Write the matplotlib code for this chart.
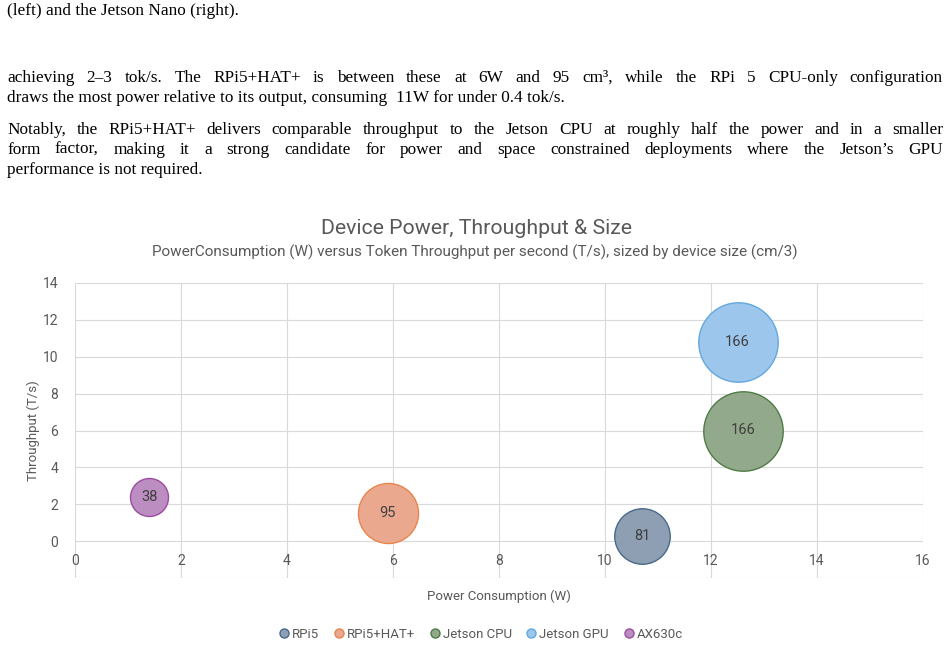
import matplotlib
matplotlib.use("Agg")
import matplotlib.pyplot as plt
from matplotlib.lines import Line2D

# chart data
devices = ["RPi5", "RPi5+HAT+", "Jetson CPU", "Jetson GPU", "AX630c"]
power_w = [10.7, 5.9, 12.6, 12.5, 1.4]
throughput = [0.3, 1.5, 6.0, 10.8, 2.4]
size_cm3 = [81, 95, 166, 166, 38]
fill_colors = ["#8e9fb3", "#eaa98e", "#92aa8b", "#9dc6ec", "#bb8dc0"]
edge_colors = ["#48698a", "#e8844c", "#4f7c45", "#62a8de", "#9c4ca2"]
x_ticks = [0, 2, 4, 6, 8, 10, 12, 14, 16]
y_ticks = [-2, 0, 2, 4, 6, 8, 10, 12, 14]

# body text around the figure
paragraph_lines = [
    ("(left) and the Jetson Nano (right).", 15, False),
    ("achieving 2\u20133 tok/s. The RPi5+HAT+ is between these at  6W and 95 cm\u00b3, while the RPi 5 CPU-only configuration", 82, True),
    ("draws the most power relative to its output, consuming  11W for under 0.4 tok/s.", 102, False),
    ("Notably, the RPi5+HAT+ delivers comparable throughput to the Jetson CPU at roughly half the power and in a smaller", 134, True),
    ("form factor, making it a strong candidate for power and space constrained deployments where the Jetson\u2019s GPU", 154, True),
    ("performance is not required.", 174, False),
]

W, H = 949, 646
grey = "#595959"
chart_font = ["Liberation Sans Narrow", "Roboto", "DejaVu Sans"]
body_size = 12.4

fig = plt.figure(figsize=(W / 100, H / 100), dpi=100)
renderer = fig.canvas.get_renderer()

# paragraph text, justified the way the paper is
left_px, right_px = 7, 943
for line, base_y, justify in paragraph_lines:
    y = 1 - base_y / H
    if not justify:
        fig.text(left_px / W, y, line, family="Liberation Serif", fontsize=body_size,
                 va="baseline", ha="left")
        continue
    words = line.split()
    objs = [fig.text(0, y, w, family="Liberation Serif", fontsize=body_size,
                     va="baseline", ha="left") for w in words]
    widths = [o.get_window_extent(renderer).width for o in objs]
    gap = (right_px - left_px - sum(widths)) / (len(words) - 1)
    x = left_px
    for o, wd in zip(objs, widths):
        o.set_x(x / W)
        x += wd + gap

# bubble chart
ax = fig.add_axes([75 / W, (H - 578) / H, 848 / W, 295 / H])
ax.set_xlim(0, 16)
ax.set_ylim(-2, 14)
for side in ax.spines.values():
    side.set_visible(False)
ax.set_xticks(x_ticks)
ax.set_yticks(y_ticks)
ax.set_yticklabels([""] + [str(v) for v in y_ticks[1:]])
ax.tick_params(length=0, labelbottom=False, labelsize=10, labelcolor=grey, pad=12)
ax.grid(True, color="#d9d9d9", linewidth=0.8)
ax.set_axisbelow(True)

for v in x_ticks:
    ax.annotate(str(v), (v, 0), xytext=(0, -14), textcoords="offset points",
                ha="center", va="center", fontsize=10, color=grey, family=chart_font)

scale = 3270 / 166
for name, xv, yv, sz, fc, ec in zip(devices, power_w, throughput, size_cm3,
                                    fill_colors, edge_colors):
    ax.scatter(xv, yv, s=sz * scale, color=fc, edgecolors=ec, linewidths=1.0,
               zorder=3, clip_on=False)
    ax.text(xv, yv, str(sz), ha="center", va="center", fontsize=10.5,
            color="#404040", family=chart_font, zorder=4)

for lbl in ax.get_yticklabels():
    lbl.set_family(chart_font)

ax.set_xlabel("Power Consumption (W)", fontsize=9.5, color=grey, family=chart_font, labelpad=8)
ax.set_ylabel("Throughput (T/s)", fontsize=9.5, color=grey, family=chart_font, labelpad=2)

fig.text(477 / W, 1 - 229 / H, "Device Power, Throughput & Size", ha="center",
         va="center", fontsize=15.3, color=grey, family=chart_font)
fig.text(475 / W, 1 - 252 / H,
         "PowerConsumption (W) versus Token Throughput per second (T/s), sized by device size (cm/3)",
         ha="center", va="center", fontsize=11, color=grey, family=chart_font)

handles = [Line2D([], [], marker="o", linestyle="", markersize=6.5,
                  markerfacecolor=fc, markeredgecolor=ec, label=n)
           for n, fc, ec in zip(devices, fill_colors, edge_colors)]
fig.legend(handles=handles, loc="center", bbox_to_anchor=(480 / W, 1 - 634 / H),
           ncol=5, frameon=False, handletextpad=0.1, columnspacing=1.0,
           handlelength=1.0, prop={"family": chart_font, "size": 9.5},
           labelcolor=grey)

fig.savefig("out.png", dpi=100)
